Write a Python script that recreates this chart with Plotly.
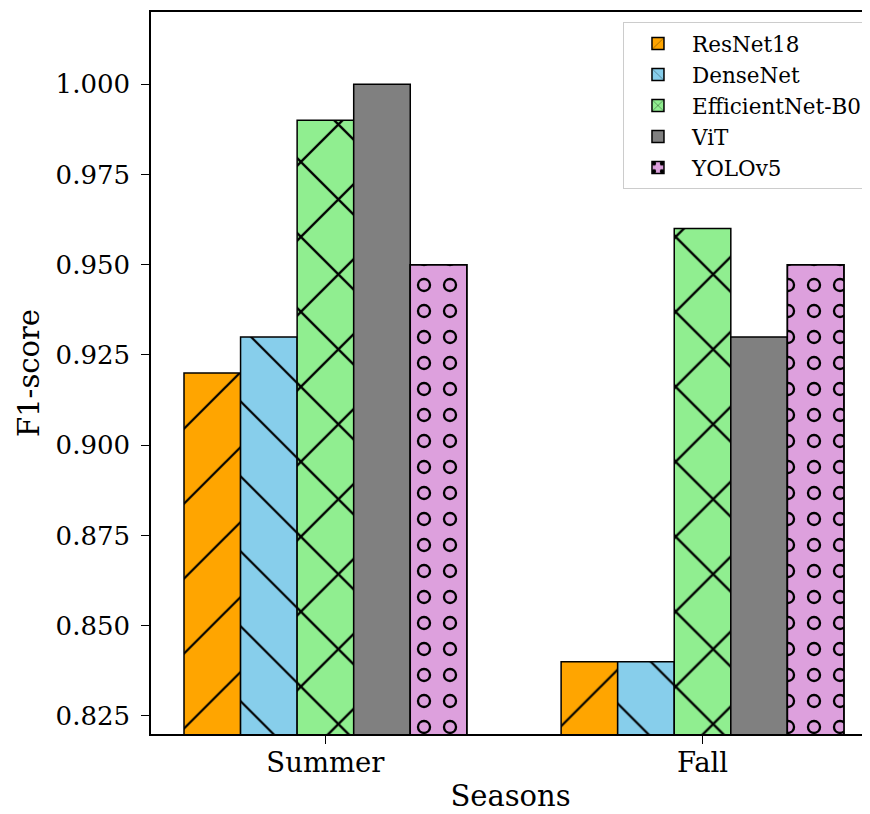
import plotly.graph_objects as go

seasons = ["Summer", "Fall"]
models = ["ResNet18", "DenseNet", "EfficientNet-B0", "ViT", "YOLOv5"]
resnet18 = [0.92, 0.84]
densenet = [0.93, 0.84]
efficientnet = [0.99, 0.96]
vit = [1.00, 0.93]
yolov5 = [0.95, 0.95]
y_ticks = [0.825, 0.85, 0.875, 0.9, 0.925, 0.95, 0.975, 1.0]

series = [resnet18, densenet, efficientnet, vit, yolov5]
colors = ["#FFA500", "#87CEEB", "#90EE90", "#808080", "#DDA0DD"]
hatches = ["/", "\\", "x", "", "o"]

FONT = "DejaVu Serif"
fig = go.Figure()
for i, (name, vals, col, h) in enumerate(zip(models, series, colors, hatches)):
    line = dict(color="black", width=1.5)
    if h == "o":
        pattern = dict(shape=".", size=26, solidity=0.24, fgcolor="black", bgcolor=col, fillmode="replace")
    elif h == "x":
        pattern = dict(shape="x", size=53, solidity=0.085, fgcolor="black", bgcolor=col, fillmode="replace")
    elif h:
        pattern = dict(shape=h, size=53, solidity=0.042, fgcolor="black", bgcolor=col, fillmode="replace")
    else:
        pattern = dict(shape="")
    fig.add_trace(go.Bar(
        x=seasons, y=vals, name=name, offsetgroup=str(i),
        marker=dict(color=col, line=line, pattern=pattern),
    ))
    if h == "o":
        # inner fill that turns the dots into rings
        fig.add_trace(go.Bar(
            x=seasons, y=vals, name=name, offsetgroup=str(i), showlegend=False, hoverinfo="skip",
            marker=dict(color="rgba(0,0,0,0)", line=line,
                        pattern=dict(shape=".", size=26, solidity=0.11, fgcolor=col,
                                     bgcolor="rgba(0,0,0,0)", fillmode="replace")),
        ))

fig.update_layout(
    width=862, height=806,
    barmode="group", bargap=0.25, bargroupgap=0,
    plot_bgcolor="white", paper_bgcolor="white",
    margin=dict(l=143, r=0, t=4, b=80),
    font=dict(family=FONT, size=26, color="black"),
    legend=dict(x=0.9958, y=0.986, xanchor="right", yanchor="top",
                bordercolor="#cccccc", borderwidth=1, bgcolor="rgba(255,255,255,0.8)",
                font=dict(family=FONT, size=21.5, color="black"), tracegroupgap=0,
                itemwidth=58),
    xaxis=dict(range=[-0.4625, 1.4441], showline=True, linecolor="black", linewidth=1.5, mirror=True,
               ticks="outside", ticklen=8, tickcolor="black", tickwidth=1.2, automargin=False,
               ticklabelstandoff=-5,
               title=dict(text="Seasons", font=dict(family=FONT, size=29, color="black"), standoff=9),
               tickfont=dict(family=FONT, size=27.5, color="black")),
    yaxis=dict(range=[0.82, 1.02], showline=True, linecolor="black", linewidth=1.5, mirror=False,
               ticks="outside", ticklen=8, tickcolor="black", tickwidth=1.2, showgrid=False,
               zeroline=False, automargin=False, ticklabelstandoff=6,
               tickvals=y_ticks, tickformat=".3f",
               title=dict(text="F1-score", font=dict(family=FONT, size=29, color="black"), standoff=7),
               tickfont=dict(family=FONT, size=26, color="black")),
)

fig.write_html("out.html")
